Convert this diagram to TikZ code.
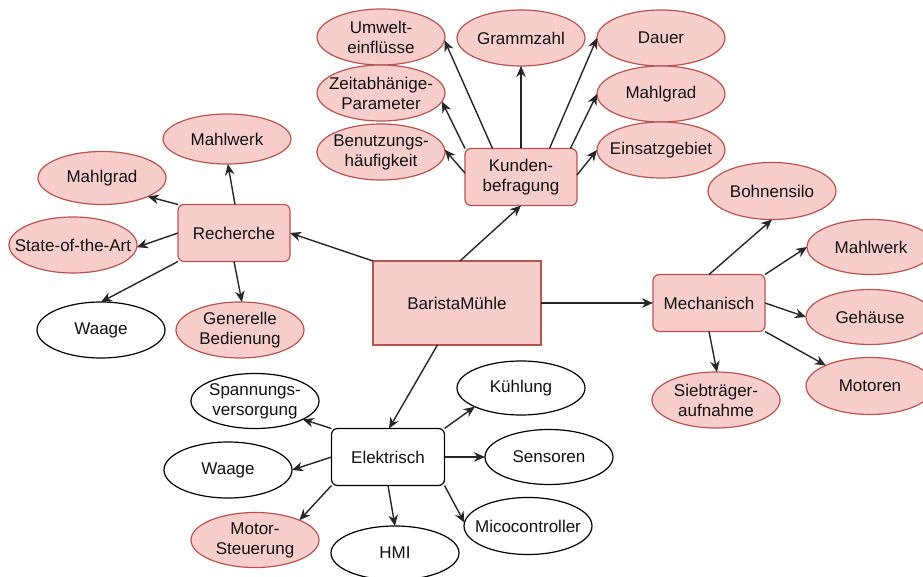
\documentclass[tikz,border=0pt]{standalone}
\usepackage{fontspec}
\setmainfont{Liberation Sans}
\usetikzlibrary{arrows.meta,shapes.geometric}
\definecolor{pfill}{HTML}{F8CECC}
\definecolor{pline}{HTML}{B85450}
\definecolor{ink}{HTML}{111111}
\begin{document}
\begin{tikzpicture}[x=1pt,y=-1pt,
  font=\fontsize{17}{20}\selectfont,
  every node/.append style={text=ink},
  pk/.style={fill=pfill,draw=pline,line width=1.2pt},
  wt/.style={fill=white,draw=black,line width=1.2pt},
  ell/.style={ellipse,inner sep=0pt,outer sep=0pt,minimum width=128pt,minimum height=56pt},
  box/.style={rectangle,rounded corners=6pt,minimum width=112pt,minimum height=57pt,align=center,inner sep=0pt,outer sep=0pt},
  arr/.style={-{Stealth[length=11pt,width=9.5pt,inset=3.5pt]},line width=1.4pt,draw=black!85}]
\useasboundingbox (0,0) rectangle (923,577);

% central
\node[rectangle,pk,minimum width=168pt,minimum height=84pt,inner sep=0pt,outer sep=0pt] (c) at (457,303) {BaristaMühle};

% Kundenbefragung
\node[box,pk] (kb) at (521,177) {Kunden-\\befragung};
\node[ell,pk,label={[align=center]center:Umwelt-\\einflüsse}] (umw) at (381,37) {};
\node[ell,pk,label={[align=center]center:Zeitabhänige-\\Parameter}] (zeit) at (381,93) {};
\node[ell,pk,label={[align=center]center:Benutzungs-\\häufigkeit}] (ben) at (381,152) {};
\node[ell,pk,label={center:Grammzahl}] (gram) at (521,38) {};
\node[ell,pk,label={center:Dauer}] (dauer) at (661,38) {};
\node[ell,pk,label={center:Mahlgrad}] (mg1) at (661,94) {};
\node[ell,pk,label={center:Einsatzgebiet}] (eins) at (661,150) {};

% Recherche
\node[box,pk] (rec) at (234,233) {Recherche};
\node[ell,pk,minimum height=50pt,label={center:Mahlwerk}] (mw1) at (227,139) {};
\node[ell,pk,minimum height=53pt,label={center:Mahlgrad}] (mg2) at (102,178) {};
\node[ell,pk,label={center:State-of-the-Art}] (sota) at (73,245) {};
\node[ell,wt,label={center:Waage}] (wa1) at (101,330) {};
\node[ell,pk,label={[align=center]center:Generelle\\Bedienung}] (gen) at (240,330) {};

% Elektrisch
\node[box,wt,minimum width=113pt] (el) at (388,457) {Elektrisch};
\node[ell,wt,minimum height=55pt,label={[align=center]center:Spannungs-\\versorgung}] (sp) at (255,401) {};
\node[ell,wt,label={center:Waage}] (wa2) at (228,470) {};
\node[ell,pk,minimum height=55pt,label={[align=center]center:Motor-\\Steuerung}] (mot) at (255,540) {};
\node[ell,wt,minimum height=54pt,label={center:HMI}] (hmi) at (395,553) {};
\node[ell,wt,minimum height=54pt,label={center:Kühlung}] (kue) at (521,388) {};
\node[ell,wt,minimum height=55pt,label={center:Sensoren}] (sen) at (549,457) {};
\node[ell,wt,minimum height=57pt,label={center:Micocontroller}] (mic) at (528,526) {};

% Mechanisch
\node[box,pk] (mech) at (709,303) {Mechanisch};
\node[ell,pk,minimum height=57pt,label={center:Bohnensilo}] (boh) at (772,191) {};
\node[ell,pk,minimum height=55pt,label={center:Mahlwerk}] (mw2) at (871,247) {};
\node[ell,pk,minimum height=55pt,label={center:Gehäuse}] (geh) at (870,317) {};
\node[ell,pk,minimum height=57pt,label={center:Motoren}] (mo) at (870,386) {};
\node[ell,pk,minimum height=56pt,label={[align=center]center:Siebträger-\\aufnahme}] (sieb) at (716,400) {};

% central connectors
\draw[arr] (c.86) -- (kb.south);
\draw[arr] (c.north west) -- (rec.east);
\draw[arr] (c.-115) -- (el.88);
\draw[arr] (c.east) -- (mech.west);

% Kundenbefragung connectors
\draw[arr] (kb.135) -- (umw.-3);
\draw[arr] (kb.north west) -- (zeit.-8);
\draw[arr] (kb.176) -- (ben.2);
\draw[arr] (kb.north) -- (gram.south);
\draw[arr] (kb.45) -- (dauer.west);
\draw[arr] (kb.30) -- (mg1.west);
\draw[arr] (kb.2) -- (eins.west);

% Recherche connectors
\draw[arr] (rec.88) -- (mw1.-88);
\draw[arr] (rec.north west) -- (mg2.-22);
\draw[arr] (rec.west) -- (sota.-2);
\draw[arr] (rec.south west) -- (wa1.north);
\draw[arr] (rec.south) -- (gen.86);

% Elektrisch connectors
\draw[arr] (el.north west) -- (sp.-21);
\draw[arr] (el.west) -- (wa2.east);
\draw[arr] (el.south west) -- (mot.24);
\draw[arr] (el.south) -- (hmi.90);
\draw[arr] (el.south east) -- (mic.177);
\draw[arr] (el.east) -- (sen.west);
\draw[arr] (el.north east) -- (kue.202);

% Mechanisch connectors
\draw[arr] (mech.north) -- (boh.south);
\draw[arr] (mech.north east) -- (mw2.west);
\draw[arr] (mech.east) -- (geh.west);
\draw[arr] (mech.south east) -- (mo.155);
\draw[arr] (mech.south) -- (sieb.88);
\end{tikzpicture}
\end{document}
